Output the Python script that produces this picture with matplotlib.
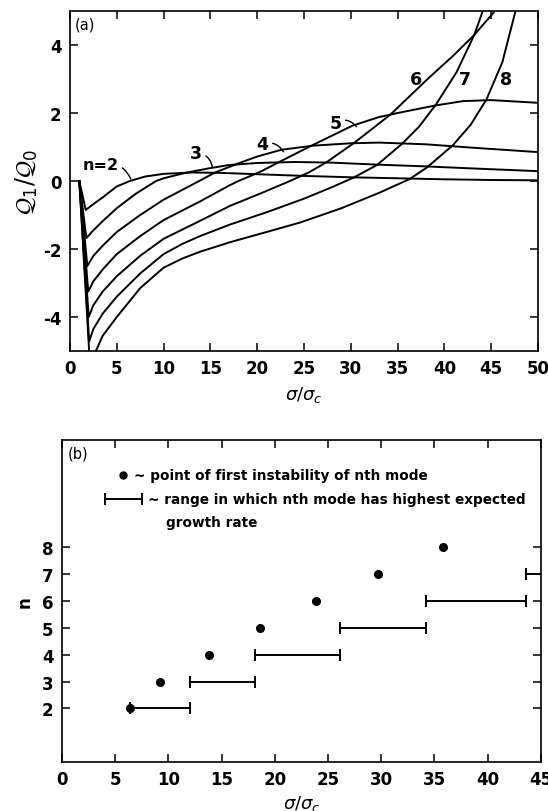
import numpy as np
import matplotlib.pyplot as plt

plt.rcParams['axes.unicode_minus'] = False

# ---- panel (a): growth rate curves, one per mode n ----
x_n2 = [1.0, 1.68, 2.5, 3.5, 5.0, 6.4, 8.0, 10.0, 13.0, 16.0, 20.0, 25.0, 30.0, 35.0, 40.0, 45.0, 50.0]
y_n2 = [0.0, -0.85, -0.68, -0.48, -0.16, 0.0, 0.13, 0.21, 0.25, 0.24, 0.2, 0.15, 0.11, 0.08, 0.05, 0.03, 0.02]

x_n3 = [1.0, 1.75, 2.5, 3.5, 5.0, 7.0, 9.2, 10.0, 12.5, 15.0, 17.0, 20.0, 24.0, 28.0, 33.0, 38.0, 43.0, 50.0]
y_n3 = [0.0, -1.68, -1.45, -1.18, -0.8, -0.38, 0.0, 0.08, 0.25, 0.38, 0.47, 0.53, 0.56, 0.54, 0.48, 0.43, 0.37, 0.29]

x_n4 = [1.0, 1.85, 2.5, 3.5, 5.0, 7.5, 10.0, 13.8, 15.5, 18.0, 20.0, 22.6, 26.0, 30.0, 33.0, 38.0, 43.0, 50.0]
y_n4 = [0.0, -2.5, -2.2, -1.9, -1.5, -1.0, -0.55, 0.0, 0.25, 0.52, 0.72, 0.92, 1.04, 1.11, 1.13, 1.08, 0.98, 0.85]

x_n5 = [1.0, 1.95, 2.5, 3.5, 5.0, 7.5, 10.0, 13.9, 17.1, 18.0, 20.4, 22.5, 25.8, 30.2, 33.0, 35.0, 39.0, 42.0, 45.0, 50.0]
y_n5 = [0.0, -3.25, -2.95, -2.6, -2.15, -1.62, -1.15, -0.6, -0.12, 0.0, 0.28, 0.58, 1.04, 1.63, 1.88, 2.0, 2.22, 2.35, 2.38, 2.3]

x_n6 = [1.0, 2.0, 2.5, 3.5, 5.0, 7.5, 10.0, 13.9, 17.1, 20.5, 23.5, 25.5, 27.4, 30.4, 32.5, 34.3, 36.5, 38.4, 41.0, 43.2, 45.4]
y_n6 = [0.0, -4.0, -3.65, -3.25, -2.8, -2.2, -1.7, -1.17, -0.73, -0.35, 0.0, 0.25, 0.55, 1.13, 1.58, 1.97, 2.55, 3.05, 3.7, 4.3, 5.0]

x_n7 = [1.0, 2.05, 2.5, 3.5, 5.0, 7.5, 10.0, 12.0, 13.9, 17.1, 21.0, 25.0, 28.0, 30.3, 32.8, 35.5, 37.3, 39.1, 41.3, 43.2, 44.1]
y_n7 = [0.0, -4.72, -4.35, -3.9, -3.4, -2.72, -2.15, -1.85, -1.62, -1.28, -0.92, -0.52, -0.18, 0.1, 0.47, 1.1, 1.6, 2.25, 3.2, 4.3, 5.0]

x_n8 = [1.0, 2.15, 2.6, 3.5, 5.0, 7.5, 10.0, 12.0, 13.9, 17.1, 21.0, 24.6, 29.0, 33.1, 36.3, 38.1, 40.9, 42.8, 44.5, 46.2, 47.6]
y_n8 = [0.0, -5.5, -5.1, -4.55, -4.0, -3.15, -2.55, -2.28, -2.08, -1.8, -1.5, -1.22, -0.8, -0.34, 0.06, 0.39, 1.05, 1.65, 2.4, 3.5, 5.0]

curves_x = [x_n2, x_n3, x_n4, x_n5, x_n6, x_n7, x_n8]
curves_y = [y_n2, y_n3, y_n4, y_n5, y_n6, y_n7, y_n8]

# ---- panel (b): first instability points and dominance ranges ----
modes = [2, 3, 4, 5, 6, 7, 8]
first_unstable = [6.4, 9.2, 13.8, 18.6, 23.9, 29.7, 35.8]
range_modes = [2, 3, 4, 5, 6, 7]
range_lo = [6.4, 12.0, 18.1, 26.1, 34.2, 43.6]
range_hi = [12.0, 18.1, 26.1, 34.2, 43.6, 50.0]

fig = plt.figure(figsize=(5.48, 8.12), dpi=100)
ax1 = fig.add_axes([0.1277, 0.5665, 0.854, 0.4187])
ax2 = fig.add_axes([0.1131, 0.0603, 0.874, 0.3966])

for ax in (ax1, ax2):
    for s in ax.spines.values():
        s.set_linewidth(1.2)
    ax.tick_params(direction='in', length=6, width=1.1, top=True, right=True, pad=6)

# panel (a)
for xs, ys in zip(curves_x, curves_y):
    ax1.plot(xs, ys, color='black', lw=1.4, solid_joinstyle='round')
ax1.set_xlim(0, 50)
ax1.set_ylim(-5, 5)
ax1.set_xticks(np.arange(0, 51, 5))
ax1.set_yticks([-4, -2, 0, 2, 4])
for lab in ax1.get_xticklabels() + ax1.get_yticklabels():
    lab.set_fontsize(12)
    lab.set_fontweight('bold')
ax1.set_xlabel(r'$\sigma/\sigma_c$', fontsize=13, labelpad=5)
ax1.set_ylabel(r'$\mathcal{Q}_1/\mathcal{Q}_0$', fontsize=17, labelpad=2)
ax1.text(0.5, 4.62, '(a)', fontsize=10.5, va='center')

arc = dict(arrowstyle='-', lw=1.0, shrinkA=1, shrinkB=0,
           connectionstyle='arc3,rad=-0.4')
ax1.annotate('n=2', xy=(6.5, 0.06), xytext=(5.2, 0.5), fontsize=11.5, fontweight='bold',
             ha='right', va='center', arrowprops=arc)
ax1.annotate('3', xy=(15.2, 0.42), xytext=(14.1, 0.82), fontsize=12.5, fontweight='bold',
             ha='right', va='center', arrowprops=arc)
ax1.annotate('4', xy=(22.8, 0.86), xytext=(21.2, 1.08), fontsize=12.5, fontweight='bold',
             ha='right', va='center', arrowprops=arc)
ax1.annotate('5', xy=(30.6, 1.6), xytext=(29.0, 1.72), fontsize=12.5, fontweight='bold',
             ha='right', va='center', arrowprops=arc)
for lbl, lx in zip(['6', '7', '8'], [37.0, 42.2, 46.6]):
    ax1.text(lx, 3.0, lbl, fontsize=12.5, fontweight='bold', ha='center', va='center')

# panel (b)
ax2.plot(first_unstable, modes, 'o', color='black', ms=5.5)
for n, lo, hi in zip(range_modes, range_lo, range_hi):
    ax2.plot([lo, hi], [n, n], color='black', lw=1.4)
    ax2.plot([lo, hi], [n, n], '|', color='black', ms=8, mew=1.4)
ax2.set_xlim(0, 45)
ax2.set_ylim(0, 12)
ax2.set_xticks(np.arange(0, 46, 5))
ax2.set_yticks(modes)
for lab in ax2.get_xticklabels() + ax2.get_yticklabels():
    lab.set_fontsize(12)
    lab.set_fontweight('bold')
ax2.set_xlabel(r'$\sigma/\sigma_c$', fontsize=13, labelpad=3)
ax2.set_ylabel('n', fontsize=12, fontweight='bold', labelpad=6)
ax2.text(0.5, 11.5, '(b)', fontsize=10.5, va='center')

# key
ax2.plot([5.74], [10.69], 'o', color='black', ms=5)
ax2.text(6.8, 10.69, '~ point of first instability of nth mode', fontsize=9.8,
         fontweight='bold', va='center')
ax2.plot([4.0, 7.5], [9.79, 9.79], color='black', lw=1.4)
ax2.plot([4.0, 7.5], [9.79, 9.79], '|', color='black', ms=8, mew=1.4)
ax2.text(8.1, 9.79, '~ range in which nth mode has highest expected', fontsize=9.8,
         fontweight='bold', va='center')
ax2.text(9.8, 8.95, 'growth rate', fontsize=9.8, fontweight='bold', va='center')

fig.savefig('out.png', dpi=100)
